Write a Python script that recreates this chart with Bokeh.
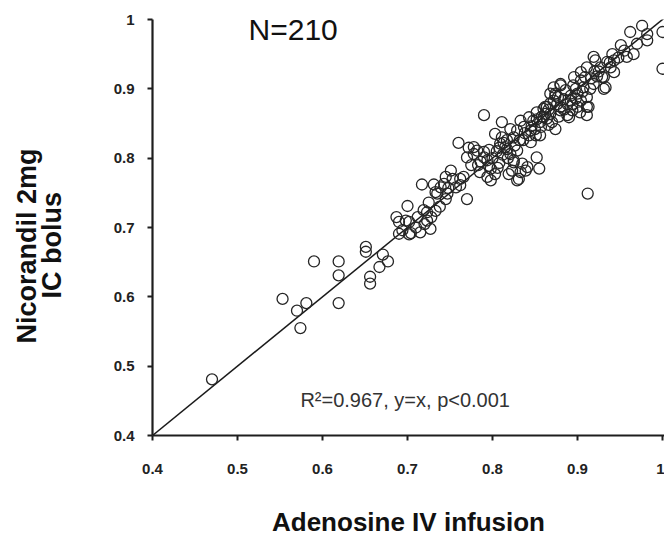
from bokeh.plotting import figure
from bokeh.models import Range1d, FixedTicker, Label, ColumnDataSource, Title
from bokeh.embed import file_html
from bokeh.resources import INLINE

# ---- data ----
adenosine_iv = [
    0.470, 0.553, 0.570, 0.581, 0.574, 0.590, 0.619, 0.619, 0.619, 0.651,
    0.651, 0.656, 0.656, 0.667, 0.671, 0.677, 0.690, 0.702, 0.687, 0.690,
    0.700, 0.702, 0.694, 0.715, 0.727, 0.720, 0.717, 0.731, 0.723, 0.733,
    0.725, 0.735, 0.739, 0.745, 0.751, 0.753, 0.762, 0.770, 0.766, 0.719,
    0.723, 0.698, 0.704, 0.733, 0.745, 0.743, 0.747, 0.762, 0.710, 0.728,
    0.790, 0.811, 0.760, 0.772, 0.778, 0.770, 0.778, 0.790, 0.782, 0.790,
    0.794, 0.798, 0.796, 0.794, 0.798, 0.803, 0.809, 0.811, 0.817, 0.821,
    0.829, 0.825, 0.835, 0.833, 0.831, 0.819, 0.839, 0.852, 0.855, 0.845,
    0.856, 0.843, 0.837, 0.829, 0.821, 0.833, 0.843, 0.852, 0.860, 0.868,
    0.874, 0.880, 0.890, 0.874, 0.894, 0.864, 0.856, 0.912, 0.815, 0.825,
    0.851, 0.823, 0.825, 0.841, 0.829, 0.800, 0.805, 0.813, 0.818, 0.808,
    0.786, 0.803, 0.817, 0.826, 0.836, 0.846, 0.850, 0.858, 0.862, 0.866,
    0.848, 0.838, 0.812, 0.806, 0.785, 0.880, 0.874, 0.872, 0.886, 0.892,
    0.894, 0.888, 0.904, 0.907, 0.911, 0.911, 0.911, 0.900, 0.904, 0.911,
    0.921, 0.927, 0.933, 0.931, 0.939, 0.943, 0.951, 0.958, 0.966, 0.962,
    0.976, 0.982, 0.982, 1.000, 1.000, 0.904, 0.919, 0.923, 0.943, 0.896,
    0.864, 0.860, 0.872, 0.880, 0.868, 0.941, 0.935, 0.919, 0.929, 0.931,
    0.909, 0.880, 0.868, 0.913, 0.862, 0.892, 0.898, 0.884, 0.876, 0.900,
    0.915, 0.925, 0.948, 0.955, 0.970, 0.916, 0.895, 0.870, 0.878, 0.903,
    0.884, 0.857, 0.866, 0.888, 0.906, 0.920, 0.938, 0.898, 0.877, 0.852,
    0.845, 0.832, 0.808, 0.796, 0.783, 0.775, 0.757, 0.748, 0.738, 0.712,
]
nicorandil_ic = [
    0.481, 0.597, 0.580, 0.591, 0.555, 0.651, 0.651, 0.631, 0.591, 0.672,
    0.665, 0.629, 0.619, 0.643, 0.661, 0.651, 0.691, 0.690, 0.715, 0.708,
    0.731, 0.708, 0.696, 0.693, 0.698, 0.705, 0.762, 0.762, 0.722, 0.724,
    0.736, 0.749, 0.758, 0.741, 0.782, 0.770, 0.761, 0.741, 0.773, 0.725,
    0.710, 0.710, 0.692, 0.751, 0.773, 0.763, 0.749, 0.770, 0.700, 0.715,
    0.862, 0.852, 0.822, 0.815, 0.816, 0.801, 0.806, 0.809, 0.811, 0.801,
    0.797, 0.785, 0.789, 0.773, 0.768, 0.777, 0.821, 0.830, 0.813, 0.806,
    0.811, 0.794, 0.792, 0.780, 0.770, 0.777, 0.782, 0.801, 0.785, 0.823,
    0.833, 0.833, 0.845, 0.840, 0.842, 0.854, 0.859, 0.866, 0.871, 0.879,
    0.890, 0.869, 0.859, 0.842, 0.878, 0.857, 0.852, 0.749, 0.816, 0.830,
    0.833, 0.782, 0.797, 0.787, 0.768, 0.800, 0.810, 0.822, 0.800, 0.793,
    0.795, 0.835, 0.826, 0.818, 0.826, 0.846, 0.842, 0.860, 0.864, 0.870,
    0.854, 0.836, 0.805, 0.786, 0.780, 0.907, 0.893, 0.883, 0.898, 0.883,
    0.869, 0.862, 0.883, 0.902, 0.888, 0.874, 0.862, 0.874, 0.912, 0.931,
    0.941, 0.931, 0.902, 0.917, 0.931, 0.941, 0.963, 0.946, 0.950, 0.982,
    0.991, 0.979, 0.970, 0.982, 0.929, 0.924, 0.907, 0.918, 0.924, 0.917,
    0.874, 0.859, 0.902, 0.874, 0.864, 0.950, 0.939, 0.946, 0.917, 0.900,
    0.917, 0.905, 0.893, 0.874, 0.874, 0.890, 0.900, 0.885, 0.878, 0.893,
    0.900, 0.925, 0.945, 0.955, 0.965, 0.915, 0.905, 0.852, 0.860, 0.866,
    0.870, 0.845, 0.848, 0.878, 0.896, 0.925, 0.938, 0.886, 0.888, 0.856,
    0.840, 0.826, 0.815, 0.812, 0.790, 0.790, 0.758, 0.757, 0.730, 0.715,
]
fit_line_x = [0.4, 1.01]          # identity line y = x
fit_line_y = [0.4, 1.01]

x_ticks = [0.4, 0.5, 0.6, 0.7, 0.8, 0.9, 1.0]
x_tick_labels = ["0.4", "0.5", "0.6", "0.7", "0.8", "0.9", "1"]
y_ticks = [0.4, 0.5, 0.6, 0.7, 0.8, 0.9, 1.0]
y_tick_labels = ["0.4", "0.5", "0.6", "0.7", "0.8", "0.9", "1"]

n_text = "N=210"
stats_text = "R\u00b2=0.967, y=x, p<0.001"
x_title = "Adenosine IV infusion"
y_title_lines = ["Nicorandil 2mg", "IC bolus"]

# ---- figure ----
p = figure(width=664, height=535, output_backend="svg", toolbar_location=None,
           x_range=Range1d(0.4, 1.00235), y_range=Range1d(0.4, 1.0),
           min_border_left=152, min_border_right=0, min_border_top=19,
           min_border_bottom=100)
p.background_fill_color = "white"
p.border_fill_color = "white"
p.outline_line_color = None
p.xgrid.visible = False
p.ygrid.visible = False

for ax, ticks, labels in ((p.xaxis[0], x_ticks, x_tick_labels),
                          (p.yaxis[0], y_ticks, y_tick_labels)):
    ax.ticker = FixedTicker(ticks=ticks)
    ax.major_label_overrides = {t: l for t, l in zip(ticks, labels)}
    ax.minor_tick_line_color = None
    ax.major_tick_in = 0
    ax.major_tick_out = 5
    ax.axis_line_width = 2.2
    ax.axis_line_color = "#1e1e1e"
    ax.major_tick_line_width = 2
    ax.major_tick_line_color = "#1e1e1e"
    ax.major_label_text_font = "Liberation Sans"
    ax.major_label_text_font_style = "bold"
    ax.major_label_text_font_size = "15px"
    ax.major_label_text_color = "#222222"

p.xaxis[0].major_label_standoff = 23
p.yaxis[0].major_label_standoff = 13

# axis titles as side titles (stacked outward from the frame)
def side_title(text, size, standoff, align="center", offset=0):
    return Title(text=text, align=align, offset=offset, standoff=standoff,
                 text_font="Liberation Sans", text_font_style="bold",
                 text_font_size=size, text_color="#111111",
                 vertical_align="bottom")

# left side: spacer, "IC bolus", "Nicorandil 2mg"
p.add_layout(Title(text=" ", text_font_size="1px", standoff=41), "left")
p.add_layout(side_title(y_title_lines[1], "27px", 0, align="left", offset=137), "left")
p.add_layout(side_title(y_title_lines[0], "27px", -14, align="left", offset=92), "left")
# below: spacer, x title
p.add_layout(Title(text=" ", text_font_size="1px", standoff=30), "below")
p.add_layout(side_title(x_title, "26px", -10, align="center"), "below")

src = ColumnDataSource(data=dict(x=adenosine_iv, y=nicorandil_ic))
p.line(fit_line_x, fit_line_y, line_color="#1a1a1a", line_width=1.5)
p.scatter("x", "y", source=src, marker="circle", size=11,
          fill_color=None, line_color="#262626", line_width=1.3)

p.add_layout(Label(x=0.513, y=0.9856, text=n_text, text_align="left",
                   text_baseline="alphabetic", text_font="Liberation Sans",
                   text_font_size="30px", text_color="#111111"))
p.add_layout(Label(x=0.574, y=0.4519, text=stats_text, text_align="left",
                   text_baseline="alphabetic", text_font="Liberation Sans",
                   text_font_size="20px", text_color="#333333"))

open("out.html", "w").write(file_html(p, INLINE))
